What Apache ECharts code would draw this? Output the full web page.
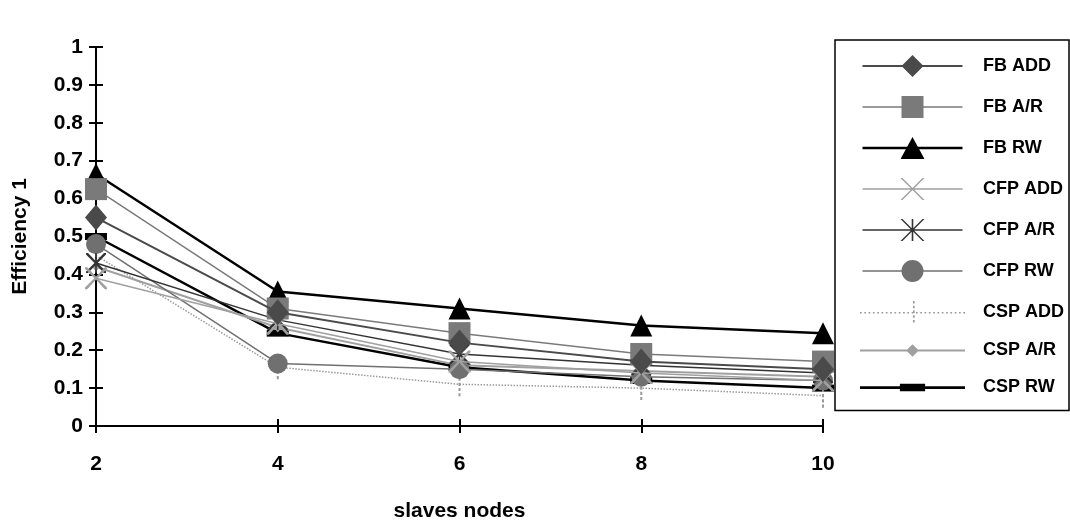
<!DOCTYPE html>
<html>
<head>
<meta charset="utf-8">
<script src="https://cdn.jsdelivr.net/npm/echarts@6/dist/echarts.min.js"></script>
<style>
html,body{margin:0;padding:0;background:#fff;}
#c{width:1070px;height:527px;}
</style>
</head>
<body>
<div id="c"></div>
<script>
var categories = ['2', '4', '6', '8', '10'];
var seriesNames = ['FB ADD', 'FB A/R', 'FB RW', 'CFP ADD', 'CFP A/R', 'CFP RW', 'CSP ADD', 'CSP A/R', 'CSP RW'];
var fbAdd  = [0.55, 0.30, 0.22, 0.17, 0.15];
var fbAR   = [0.625, 0.31, 0.245, 0.19, 0.17];
var fbRW   = [0.665, 0.355, 0.31, 0.265, 0.245];
var cfpAdd = [0.39, 0.27, 0.17, 0.14, 0.12];
var cfpAR  = [0.43, 0.28, 0.19, 0.16, 0.14];
var cfpRW  = [0.48, 0.165, 0.15, 0.13, 0.12];
var cspAdd = [0.45, 0.155, 0.11, 0.10, 0.08];
var cspAR  = [0.42, 0.26, 0.16, 0.145, 0.13];
var cspRW  = [0.50, 0.245, 0.155, 0.12, 0.10];

// marker shapes (plot)
var X_PATH = 'path://M0,0L2,0L10,8.5L18,0L20,0L20,1.5L11.5,10L20,18.5L20,20L18,20L10,11.5L2,20L0,20L0,18.5L8.5,10L0,1.5Z';
var AST_PATH = 'path://M0,0L2,0L9.2,7.5L9.2,0L10.8,0L10.8,7.5L18,0L20,0L20,1.5L11.5,10L20,18.5L20,20L18,20L10.8,12.5L10.8,20L9.2,20L9.2,12.5L2,20L0,20L0,18.5L8.5,10L0,1.5Z';
var VBAR_PATH = 'path://M0,0L2,0L2,3L0,3ZM0,5L2,5L2,8L0,8ZM0,10L2,10L2,13L0,13ZM0,15L2,15L2,18L0,18ZM0,20L2,20L2,23L0,23Z';

// legend icon builders (100 x 22 box, line on y=11)
function lineRect(h){ var a = 11 - h/2, b = 11 + h/2; return 'M0,'+a+'L100,'+a+'L100,'+b+'L0,'+b+'Z'; }
function dottedLine(){ var s=''; for (var x=0; x<100; x+=4){ s += 'M'+x+',10.3L'+(x+1.6)+',10.3L'+(x+1.6)+',11.7L'+x+',11.7Z'; } return s; }
var mDiamond = 'M50,0L61,11L50,22L39,11Z';
var mSquare = 'M39,0L61,0L61,22L39,22Z';
var mTri = 'M50,0L62,22L38,22Z';
var mX = 'M38,0L40,0L62,22L60,22ZM60,0L62,0L40,22L38,22Z';
var mAst = mX + 'M49.2,0L50.8,0L50.8,22L49.2,22Z';
var mCircle = 'M39,11A11,11 0 1 1 61,11A11,11 0 1 1 39,11Z';
var mVdash = (function(){ var s=''; for (var y=0; y<22; y+=4.4){ s += 'M49.2,'+y+'L50.8,'+y+'L50.8,'+(y+2.4)+'L49.2,'+(y+2.4)+'Z'; } return s; })();
var mSmallDiamond = 'M50,5L56,11L50,17L44,11Z';
var mBar = 'M38,7.5L62,7.5L62,14.5L38,14.5Z';
var legendIcons = [
  lineRect(2.2) + mDiamond,
  lineRect(1.4) + mSquare,
  lineRect(2.6) + mTri,
  lineRect(1.6) + mX,
  lineRect(1.6) + mAst,
  lineRect(1.4) + mCircle,
  dottedLine() + mVdash,
  lineRect(2) + mSmallDiamond,
  lineRect(2.6) + mBar
];

var styles = [
  {color:'#4a4a4a', lw:2,   lt:'solid',  sym:'diamond',  ss:[22,26]},
  {color:'#7a7a7a', lw:1.5, lt:'solid',  sym:'rect',     ss:[22,22]},
  {color:'#000000', lw:2.5, lt:'solid',  sym:'triangle', ss:[22,22]},
  {color:'#a0a0a0', lw:1.5, lt:'solid',  sym:X_PATH,     ss:[22,22]},
  {color:'#333333', lw:1.5, lt:'solid',  sym:AST_PATH,   ss:[20,20]},
  {color:'#707070', lw:1.5, lt:'solid',  sym:'circle',   ss:[20,20]},
  {color:'#9a9a9a', lw:1.5, lt:'dotted', sym:VBAR_PATH,  ss:[2,24]},
  {color:'#a0a0a0', lw:2,   lt:'solid',  sym:'diamond',  ss:[8,10]},
  {color:'#000000', lw:2.5, lt:'solid',  sym:'rect',     ss:[22,7]}
];
var dataSets = [fbAdd, fbAR, fbRW, cfpAdd, cfpAR, cfpRW, cspAdd, cspAR, cspRW];

var series = seriesNames.map(function(n, i){
  var s = styles[i];
  return {
    name: n, type: 'line', data: dataSets[i],
    symbol: s.sym, symbolSize: s.ss, showAllSymbol: true,
    lineStyle: {color: s.color, width: s.lw, type: s.lt},
    itemStyle: {color: s.color},
    z: 10 - i,
    animation: false
  };
});

var FONT = 'Liberation Sans, Arial, sans-serif';
var chart = echarts.init(document.getElementById('c'), null, {renderer: 'canvas'});
chart.setOption({
  backgroundColor: '#fff',
  animation: false,
  grid: {left: 96, right: 247, top: 47, bottom: 97, containLabel: false},
  legend: {
    orient: 'vertical', left: 835, top: 40,
    data: seriesNames.map(function(n, i){ return {name: n, icon: 'path://' + legendIcons[i]}; }),
    itemWidth: 105, itemHeight: 22, itemGap: 19,
    padding: [15, 5, 14, 25],
    borderColor: '#000', borderWidth: 1.5,
    textStyle: {fontFamily: FONT, fontWeight: 'bold', fontSize: 18, color: '#000', padding: [0, 0, 0, 13]},
    inactiveColor: '#000'
  },
  xAxis: [{
    type: 'category', data: categories, boundaryGap: false,
    name: 'slaves nodes', nameLocation: 'middle', nameGap: 75,
    nameTextStyle: {fontFamily: FONT, fontWeight: 'bold', fontSize: 21, color: '#000'},
    axisLine: {lineStyle: {color: '#000', width: 2}},
    axisTick: {show: true, length: 7, lineStyle: {color: '#000', width: 2}},
    axisLabel: {fontFamily: FONT, fontWeight: 'bold', fontSize: 21, color: '#000', margin: 28},
    splitLine: {show: false}
  }, {
    type: 'category', data: categories, boundaryGap: false, position: 'bottom',
    axisLine: {show: false},
    axisTick: {show: true, inside: true, length: 7, lineStyle: {color: '#000', width: 2}},
    axisLabel: {show: false}, splitLine: {show: false}
  }],
  yAxis: [{
    type: 'value', min: 0, max: 1, interval: 0.1,
    name: 'Efficiency 1', nameLocation: 'middle', nameGap: 65, nameRotate: 90,
    nameTextStyle: {fontFamily: FONT, fontWeight: 'bold', fontSize: 21, color: '#000'},
    axisLine: {show: true, lineStyle: {color: '#000', width: 2}},
    axisTick: {show: true, length: 7, lineStyle: {color: '#000', width: 2}},
    axisLabel: {fontFamily: FONT, fontWeight: 'bold', fontSize: 21, color: '#000', margin: 13,
      formatter: function(v){ return String(Math.round(v*10)/10); }},
    splitLine: {show: false}
  }, {
    type: 'value', min: 0, max: 1, interval: 0.1, position: 'left',
    axisLine: {show: false},
    axisTick: {show: true, inside: true, length: 7, lineStyle: {color: '#000', width: 2}},
    axisLabel: {show: false}, splitLine: {show: false}
  }],
  series: series
});
</script>
</body>
</html>
